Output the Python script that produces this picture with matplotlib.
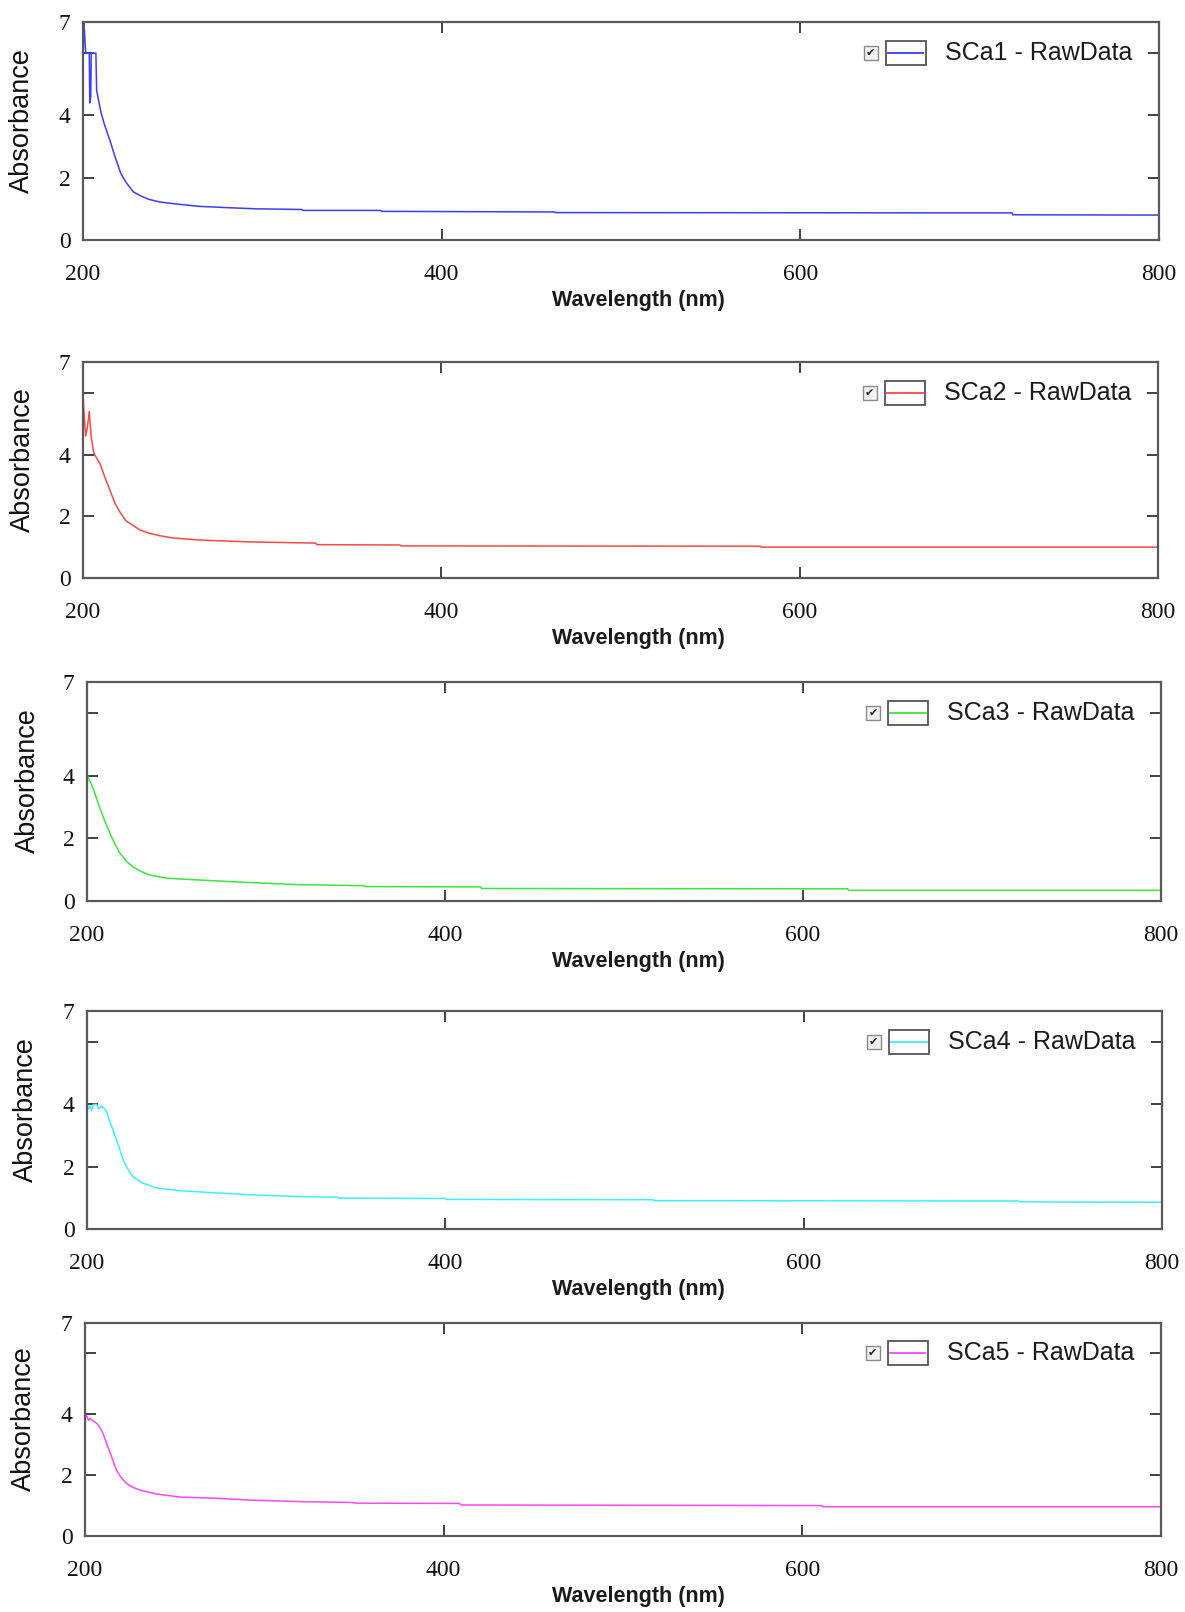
import matplotlib
matplotlib.use("Agg")
import matplotlib.pyplot as plt
from matplotlib.patches import Rectangle
from matplotlib.lines import Line2D

W, H = 1185, 1612

# ---------------- data ----------------
labels = ["SCa1 - RawData", "SCa2 - RawData", "SCa3 - RawData",
          "SCa4 - RawData", "SCa5 - RawData"]
colors = ["#3c3cff", "#ff4646", "#3ce63c", "#3cf0ff", "#ff46ff"]

wl1 = [200.0, 200.5, 201.0, 201.5, 203.5, 203.8, 204.3, 204.6, 207.2, 207.6, 209.0, 210.0,
       212.0, 215.0, 218.0, 221.0, 224.0, 228.0, 232.0, 237.0, 243.0, 250.0, 258.0, 265.0,
       280.0, 297.0, 322.0, 322.5, 366.0, 366.5, 463.0, 463.5, 718.0, 718.5, 800.0]
ab1 = [5.6, 7.0, 6.5, 6.0, 6.0, 4.4, 4.6, 6.0, 6.0, 4.8, 4.4, 4.1,
       3.7, 3.2, 2.65, 2.15, 1.85, 1.55, 1.42, 1.3, 1.22, 1.17, 1.12, 1.08,
       1.04, 1.0, 0.98, 0.95, 0.95, 0.92, 0.9, 0.88, 0.87, 0.81, 0.8]

wl2 = [200.0, 200.7, 201.5, 202.5, 203.5, 204.5, 206.0, 209.5, 212.0, 215.0, 218.0, 221.0,
       224.0, 228.0, 232.0, 237.0, 243.0, 250.0, 265.0, 293.0, 330.0, 330.5, 377.0, 377.5,
       578.0, 578.5, 800.0]
ab2 = [6.0, 5.2, 4.6, 4.9, 5.4, 4.6, 4.05, 3.7, 3.3, 2.85, 2.4, 2.1,
       1.85, 1.7, 1.55, 1.45, 1.37, 1.3, 1.23, 1.17, 1.13, 1.08, 1.07, 1.04,
       1.03, 1.0, 1.0]

wl3 = [200.0, 203.4, 207.0, 210.0, 212.8, 215.5, 218.4, 222.0, 225.7, 230.0, 235.0, 244.5,
       263.0, 280.0, 295.0, 319.0, 355.0, 355.5, 420.0, 420.5, 625.0, 625.5, 800.0]
ab3 = [4.03, 3.6, 3.0, 2.55, 2.17, 1.83, 1.53, 1.27, 1.09, 0.95, 0.83, 0.73,
       0.67, 0.62, 0.58, 0.52, 0.49, 0.46, 0.45, 0.4, 0.39, 0.34, 0.34]

wl4 = [200.0, 200.8, 201.7, 202.5, 203.5, 205.4, 206.5, 208.0, 209.1, 211.0, 212.5, 214.5,
       216.5, 218.4, 220.0, 222.0, 225.7, 231.0, 238.5, 251.5, 272.0, 291.0, 319.0, 340.0,
       340.5, 400.0, 400.5, 516.0, 516.5, 720.0, 720.5, 800.0]
ab4 = [4.08, 3.85, 3.95, 3.8, 4.0, 4.0, 3.85, 3.95, 3.9, 3.77, 3.5, 3.18,
       2.85, 2.54, 2.25, 2.0, 1.67, 1.48, 1.32, 1.23, 1.16, 1.1, 1.04, 1.02,
       0.99, 0.98, 0.95, 0.94, 0.91, 0.9, 0.87, 0.86]

wl5 = [200.0, 201.0, 202.0, 202.8, 204.0, 206.5, 208.0, 210.0, 212.0, 214.0, 217.5, 220.0,
       223.0, 226.0, 230.5, 240.0, 253.0, 273.0, 292.0, 320.0, 350.0, 350.5, 409.0, 409.5,
       611.0, 611.5, 800.0]
ab5 = [3.9, 3.95, 3.8, 3.87, 3.8, 3.7, 3.6, 3.38, 3.05, 2.73, 2.17, 1.93,
       1.74, 1.62, 1.51, 1.38, 1.28, 1.24, 1.18, 1.13, 1.1, 1.08, 1.07, 1.02,
       1.0, 0.96, 0.96]

wavelengths = [wl1, wl2, wl3, wl4, wl5]
absorb = [ab1, ab2, ab3, ab4, ab5]

xticks = [200, 400, 600, 800]
xticklabels = ["200", "400", "600", "800"]
yticks = [0, 2, 4, 6, 7]
yticklabels = ["0", "2", "4", "", "7"]

# panel boxes in pixels: left, right, top, bottom
boxes = [(83, 1159, 22, 240), (83, 1158, 362, 578), (87, 1161, 682, 901),
         (87, 1162, 1011, 1229), (85, 1161, 1323, 1536)]
ylab_x = [21, 22, 27, 25, 23]

fig = plt.figure(figsize=(W / 100, H / 100), dpi=100)
spine_c = "#5a5a5a"

for i in range(5):
    l, r, t, b = boxes[i]
    w_ax = r - l
    h_ax = b - t
    ax = fig.add_axes([l / W, 1 - b / H, w_ax / W, h_ax / H])
    ax.plot(wavelengths[i], absorb[i], color=colors[i], lw=1.1)
    ax.set_xlim(200, 800)
    ax.set_ylim(0, 7)
    for s in ax.spines.values():
        s.set_color(spine_c)
        s.set_linewidth(1.6)
    ax.set_xticks(xticks)
    ax.set_xticklabels(xticklabels, fontfamily="Liberation Serif", fontsize=17)
    ax.set_yticks(yticks)
    ax.set_yticklabels(yticklabels, fontfamily="Liberation Serif", fontsize=17)
    ax.tick_params(axis="both", direction="in", length=8, width=1.3, color="#333333",
                   top=True, right=True, labelcolor="#111111")
    ax.tick_params(axis="x", pad=17)
    ax.tick_params(axis="y", pad=9)
    for tk in ax.yaxis.get_major_ticks()[-1:]:
        tk.tick1line.set_visible(False)
        tk.tick2line.set_visible(False)
    ax.set_ylabel("Absorbance", fontfamily="Liberation Sans", fontsize=19.5, color="#111111")
    ax.yaxis.set_label_coords((ylab_x[i] + 14 - l) / w_ax, 0.55)
    ax.set_xlabel("Wavelength (nm)", fontfamily="Liberation Sans", fontweight="bold",
                  fontsize=15.5, color="#1a1a1a")
    ax.xaxis.set_label_coords((638 - l) / w_ax, -50 / h_ax)

    # legend-like box
    yc = 6 / 7
    cb_w = 14 / w_ax
    cb_h = 14 / h_ax
    ax.add_patch(Rectangle((0.732 - cb_w / 2, yc - cb_h / 2), cb_w, cb_h,
                           transform=ax.transAxes, facecolor="#f2f2f2",
                           edgecolor="#8a8a8a", lw=1.0, clip_on=False))
    ax.text(0.732, yc, "\u2714", transform=ax.transAxes, ha="center", va="center",
            fontsize=8, color="#222222", fontfamily="DejaVu Sans")
    bx0, bx1 = 0.746, 0.783
    bh = 24 / h_ax
    ax.add_patch(Rectangle((bx0, yc - bh / 2), bx1 - bx0, bh, transform=ax.transAxes,
                           facecolor="white", edgecolor="#555555", lw=1.3, clip_on=False))
    ax.add_line(Line2D([bx0 + 0.002, bx1 - 0.002], [yc, yc], transform=ax.transAxes,
                       color=colors[i], lw=1.3))
    ax.text(0.801, yc, labels[i], transform=ax.transAxes, ha="left", va="center",
            fontsize=18, fontfamily="Liberation Sans", color="#1a1a1a")

fig.savefig("out.png", dpi=100)
